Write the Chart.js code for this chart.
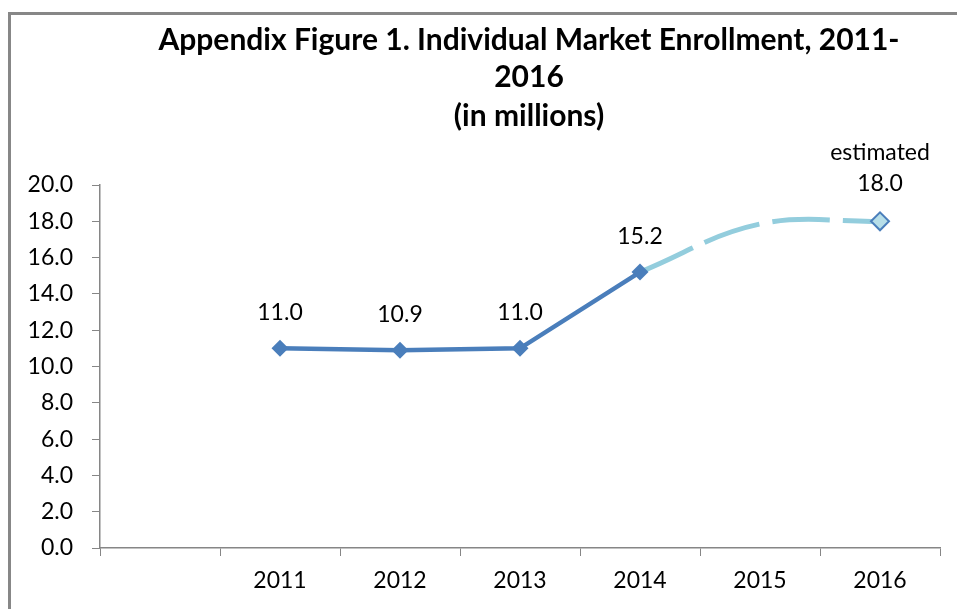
<!DOCTYPE html>
<html>
<head>
<meta charset="utf-8">
<script src="https://cdn.jsdelivr.net/npm/chart.js@4.4.1/dist/chart.umd.min.js"></script>
<style>
  html, body { margin: 0; padding: 0; background: #fff; overflow: hidden; }
  #frame { position: absolute; left: 8px; top: 12px; width: 1000px; height: 700px;
           border-left: 3px solid #878787; border-top: 3px solid #878787; }
  #wrap { position: absolute; left: 0; top: 0; width: 957px; height: 609px; }
</style>
</head>
<body>
<div id="frame"></div>
<div id="wrap"><canvas id="c" width="957" height="609"></canvas></div>
<script>
// ---- data ----
const categories = ['', '2011', '2012', '2013', '2014', '2015', '2016'];
const actualValues = [null, 11.0, 10.9, 11.0, 15.2, null, null];
const estimatedValues = [null, null, null, null, 15.2, 17.85, 18.0];
const yMin = 0, yMax = 20, yStep = 2;
const titleLines = ['Appendix Figure 1. Individual Market Enrollment, 2011-', '2016', '(in millions)'];
const estimateNote = 'estimated';

const FONT = 'Lato, "Open Sans", sans-serif';
const lastEstIndex = estimatedValues.length - 1;

const titlePlugin = {
  id: 'titleLines',
  afterDraw(chart) {
    const ctx = chart.ctx;
    ctx.save();
    ctx.fillStyle = '#000';
    ctx.font = 'bold 30px ' + FONT;
    ctx.textAlign = 'center';
    ctx.textBaseline = 'middle';
    const cx = 529;
    const ys = [40, 77, 116];
    titleLines.forEach((t, i) => ctx.fillText(t, cx, ys[i]));
    ctx.restore();
  }
};

const labelPlugin = {
  id: 'valueLabels',
  afterDatasetsDraw(chart) {
    const ctx = chart.ctx;
    ctx.save();
    ctx.fillStyle = '#000';
    ctx.font = '23px ' + FONT;
    ctx.textAlign = 'center';
    ctx.textBaseline = 'middle';
    const m0 = chart.getDatasetMeta(0);
    actualValues.forEach((v, i) => {
      if (v === null) return;
      const p = m0.data[i];
      ctx.fillText(v.toFixed(1), p.x, p.y - 36);
    });
    const m1 = chart.getDatasetMeta(1);
    const p = m1.data[lastEstIndex];
    const v = estimatedValues[lastEstIndex];
    ctx.fillText(v.toFixed(1), p.x, p.y - 38);
    ctx.fillText(estimateNote, p.x, p.y - 69);
    ctx.restore();
  }
};

new Chart(document.getElementById('c'), {
  type: 'line',
  data: {
    labels: categories,
    datasets: [
      {
        label: 'Actual',
        data: actualValues,
        borderColor: '#4A7EBB',
        backgroundColor: '#4A7EBB',
        borderWidth: 4.5,
        pointStyle: 'rectRot',
        pointRadius: 8.5,
        pointBorderWidth: 0,
        pointBackgroundColor: '#4A7EBB',
        tension: 0,
        order: 0
      },
      {
        label: 'Estimated',
        data: estimatedValues,
        borderColor: '#93CDDD',
        backgroundColor: '#B7DEE8',
        borderWidth: 5,
        borderDash: [58, 13],
        cubicInterpolationMode: 'default',
        tension: 0.4,
        pointStyle: 'rectRot',
        pointRadius: (ctx) => ctx.dataIndex === lastEstIndex ? 9 : 0,
        pointBorderWidth: 2,
        pointBorderColor: '#4A7EBB',
        pointBackgroundColor: '#B7DEE8',
        order: 1
      }
    ]
  },
  options: {
    responsive: false,
    animation: false,
    devicePixelRatio: 1,
    layout: { padding: { left: 0, right: 17, top: 185, bottom: 0 } },
    plugins: {
      legend: { display: false },
      title: { display: false },
      tooltip: { enabled: false }
    },
    scales: {
      x: {
        type: 'category',
        offset: true,
        grid: { offset: true, drawOnChartArea: false, drawTicks: true, tickLength: 8, color: '#868686', lineWidth: 1 },
        border: { display: true, color: '#868686', width: 1.5 },
        ticks: { color: '#000', font: { family: FONT, size: 23 }, padding: 11, maxRotation: 0, autoSkip: false },
        afterFit(scale) { scale.height = 61; }
      },
      y: {
        min: yMin, max: yMax,
        grid: { drawOnChartArea: false, drawTicks: true, tickLength: 8, color: '#868686', lineWidth: 1 },
        border: { display: true, color: '#868686', width: 1.5 },
        ticks: { stepSize: yStep, color: '#000', font: { family: FONT, size: 23 }, padding: 19,
                 callback: (v) => Number(v).toFixed(1) },
        afterFit(scale) { scale.width = 100; }
      }
    }
  },
  plugins: [titlePlugin, labelPlugin]
});
</script>
</body>
</html>
